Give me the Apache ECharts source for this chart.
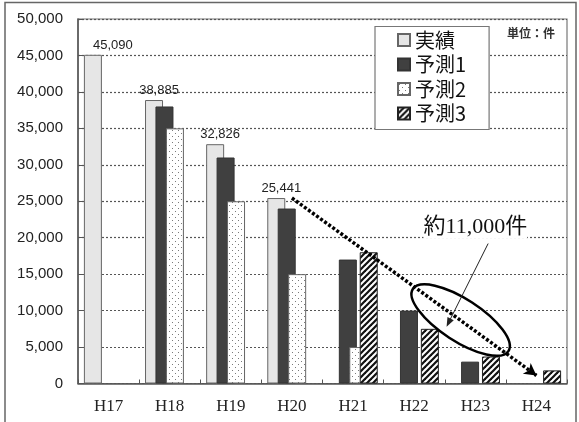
<!DOCTYPE html>
<html><head><meta charset="utf-8">
<script src="https://cdn.jsdelivr.net/npm/echarts@6/dist/echarts.min.js"></script>
<style>html,body{margin:0;padding:0;background:#fff}#c{width:579px;height:422px}</style>
</head><body><div id="c"></div>
<script>
// ---- data ----
const categories = ['H17', 'H18', 'H19', 'H20', 'H21', 'H22', 'H23', 'H24'];
const actual    = [45090, 38885, 32826, 25441, null, null, null, null];
const forecast1 = [null, 38000, 31000, 24000, 17000, 10000, 3000, null];
const forecast2 = [null, 35000, 25000, 15000, 5000, null, null, null];
const forecast3 = [null, null, null, null, 18000, 7500, 3700, 1800];
const seriesNames = ['実績', '予測1', '予測2', '予測3'];
const trendFrom = ['H20', 25441];
const trendTo = ['H24', 1100];
const noteText = '約11,000件';
const unitText = '単位：件';

// ---- patterns ----
function dotPattern() {
  const c = document.createElement('canvas'); c.width = 6; c.height = 6;
  const g = c.getContext('2d');
  g.fillStyle = '#fff'; g.fillRect(0, 0, 6, 6);
  g.fillStyle = '#7a7a7a';
  g.fillRect(1, 1, 1, 1); g.fillRect(4, 4, 1, 1);
  return c;
}
function hatchPattern() {
  const c = document.createElement('canvas'); c.width = 6; c.height = 6;
  const g = c.getContext('2d');
  g.fillStyle = '#fff'; g.fillRect(0, 0, 6, 6);
  g.strokeStyle = '#111'; g.lineWidth = 2.2;
  [[-3, 3, 3, -3], [0, 6, 6, 0], [3, 9, 9, 3]].forEach(function (l) {
    g.beginPath(); g.moveTo(l[0], l[1]); g.lineTo(l[2], l[3]); g.stroke();
  });
  return c;
}

const chart = echarts.init(document.getElementById('c'), null, { renderer: 'canvas' });
const fmt = function (v) { return Number(v).toLocaleString('en-US'); };

const barCommon = { type: 'bar', barWidth: 18, barGap: '-42%' };
const actualData = actual.map(function (v, i) {
  if (v == null) return null;
  return { value: v, label: { offset: [i === 0 ? 20 : 5, 0] } };
});

const option = {
  animation: false,
  backgroundColor: '#fff',
  textStyle: { fontFamily: 'Liberation Sans, Noto Sans CJK JP, sans-serif' },
  grid: { left: 78, top: 19, right: 12, bottom: 38.5, show: true, borderColor: '#777', borderWidth: 1.2 },
  legend: {
    orient: 'vertical', left: 375, top: 26.5,
    padding: [3.5, 23, 6, 22],
    backgroundColor: '#fff', borderColor: '#777', borderWidth: 1.2,
    itemWidth: 12, itemHeight: 12, itemGap: 4.5,
    icon: 'rect',
    textStyle: { fontFamily: 'Noto Sans CJK JP', fontSize: 20, color: '#111', lineHeight: 20 },
    data: seriesNames
  },
  xAxis: {
    type: 'category', data: categories,
    axisLine: { lineStyle: { color: '#555', width: 1.5 } },
    axisTick: { show: true, inside: true, length: 4, lineStyle: { color: '#555' } },
    axisLabel: { fontFamily: 'Liberation Serif', fontSize: 17, color: '#222', margin: 15 }
  },
  yAxis: {
    type: 'value', min: 0, max: 50000, interval: 5000,
    axisLine: { show: true, lineStyle: { color: '#555', width: 1.5 } },
    axisTick: { show: true, inside: true, length: 4, lineStyle: { color: '#555' } },
    axisLabel: { fontFamily: 'Liberation Sans', fontSize: 15, color: '#222', margin: 15, formatter: fmt },
    splitLine: { lineStyle: { color: '#555', type: [2, 2], width: 1.2 } }
  },
  series: [
    Object.assign({}, barCommon, {
      name: seriesNames[0], data: actualData,
      itemStyle: { color: '#e6e6e6', borderColor: '#666', borderWidth: 1 },
      label: { show: true, position: 'top', distance: 3, fontSize: 13, color: '#222',
               fontFamily: 'Liberation Sans', formatter: function (p) { return fmt(p.value); } }
    }),
    Object.assign({}, barCommon, {
      name: seriesNames[1], data: forecast1,
      itemStyle: { color: '#404040', borderColor: '#333', borderWidth: 1 }
    }),
    Object.assign({}, barCommon, {
      name: seriesNames[2], data: forecast2,
      itemStyle: { color: { image: dotPattern(), repeat: 'repeat' }, borderColor: '#666', borderWidth: 1 }
    }),
    Object.assign({}, barCommon, {
      name: seriesNames[3], data: forecast3,
      itemStyle: { color: { image: hatchPattern(), repeat: 'repeat' }, borderColor: '#222', borderWidth: 1 }
    }),
    {
      name: 'trend', type: 'line', data: [], z: 10,
      markLine: {
        silent: true, symbol: ['none', 'arrow'], symbolSize: [10, 12],
        label: { show: false },
        lineStyle: { type: [3, 2], width: 3.5, color: '#000' },
        data: [[{ coord: trendFrom }, { coord: trendTo }]]
      }
    }
  ]
};
chart.setOption(option);

// ---- annotations anchored to data space ----
function px(catPos, value) {
  const a = chart.convertToPixel({ xAxisIndex: 0 }, categories[0]);
  const b = chart.convertToPixel({ xAxisIndex: 0 }, categories[1]);
  const y = chart.convertToPixel({ yAxisIndex: 0 }, value);
  return [a + catPos * (b - a), y];
}
const ell = px(5.76, 8700);
const noteP = px(6.0, 21400);
const aFrom = px(6.21, 19200);
const aTo = px(5.53, 7800);
const ang = Math.atan2(aTo[1] - aFrom[1], aTo[0] - aFrom[0]);
const hl = 9, hw = 3.5;
const head = [
  aTo,
  [aTo[0] - hl * Math.cos(ang) + hw * Math.sin(ang), aTo[1] - hl * Math.sin(ang) - hw * Math.cos(ang)],
  [aTo[0] - hl * Math.cos(ang) - hw * Math.sin(ang), aTo[1] - hl * Math.sin(ang) + hw * Math.cos(ang)]
];

chart.setOption({
  graphic: [
    { type: 'rect', silent: true, z: -10, shape: { x: 5, y: 2.5, width: 571, height: 430 },
      style: { fill: 'none', stroke: '#666', lineWidth: 1.5 } },
    { type: 'text', silent: true, z: 5, x: 507, y: 27,
      style: { text: unitText, fontFamily: 'Noto Sans CJK JP', fontWeight: 'bold', fontSize: 12, fill: '#333' } },
    { type: 'ellipse', silent: true, z: 20, x: ell[0], y: ell[1], rotation: -33 * Math.PI / 180,
      shape: { cx: 0, cy: 0, rx: 57, ry: 21 },
      style: { fill: 'none', stroke: '#000', lineWidth: 2.5 } },
    { type: 'text', silent: true, z: 20, x: noteP[0], y: noteP[1],
      style: { text: noteText, fontFamily: 'Liberation Serif, Noto Sans CJK JP', fontSize: 22, fill: '#111',
               align: 'center', verticalAlign: 'middle', backgroundColor: '#fff' } },
    { type: 'line', silent: true, z: 20,
      shape: { x1: aFrom[0], y1: aFrom[1], x2: aTo[0] - 6 * Math.cos(ang), y2: aTo[1] - 6 * Math.sin(ang) },
      style: { stroke: '#222', lineWidth: 1 } },
    { type: 'polygon', silent: true, z: 20, shape: { points: head }, style: { fill: '#222' } }
  ]
});
</script>
</body></html>
